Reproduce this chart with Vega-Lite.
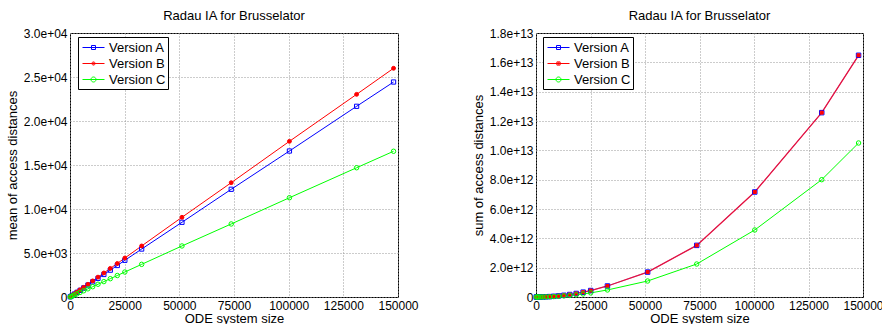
{
  "$schema": "https://vega.github.io/schema/vega-lite/v6.json",
  "padding": {"left": 5, "top": 9, "right": 0, "bottom": 0},
  "background": "white",
  "config": {
    "font": "Liberation Sans",
    "view": {"stroke": "black", "strokeWidth": 1},
    "axis": {
      "domain": false,
      "ticks": false,
      "grid": true,
      "gridDash": [1, 2],
      "gridColor": "#999999",
      "gridOpacity": 1,
      "labelFontSize": 12,
      "labelColor": "black",
      "labelPadding": 3,
      "titleFontSize": 13,
      "titleFontWeight": "normal",
      "titleColor": "black"
    },
    "axisX": {"titlePadding": 1, "labelFlush": false, "labelOverlap": false, "tickCount": 10},
    "axisY": {"titlePadding": 4, "labelOverlap": false, "tickCount": 12},
    "title": {"fontSize": 13, "fontWeight": "normal", "color": "black", "offset": 4},
    "legend": {"symbolOpacity": 1}
  },
  "datasets": {
    "d": [
      {"n": 128, "version": "Version A", "mean": 21, "sum": 1.15e7},
      {"n": 512, "version": "Version A", "mean": 85, "sum": 1.8e8},
      {"n": 1152, "version": "Version A", "mean": 190, "sum": 9.3e8},
      {"n": 2048, "version": "Version A", "mean": 340, "sum": 2.9e9},
      {"n": 3200, "version": "Version A", "mean": 530, "sum": 7.2e9},
      {"n": 4608, "version": "Version A", "mean": 760, "sum": 1.49e10},
      {"n": 6272, "version": "Version A", "mean": 1040, "sum": 2.75e10},
      {"n": 8192, "version": "Version A", "mean": 1360, "sum": 4.7e10},
      {"n": 10368, "version": "Version A", "mean": 1720, "sum": 7.5e10},
      {"n": 12800, "version": "Version A", "mean": 2120, "sum": 1.15e11},
      {"n": 15488, "version": "Version A", "mean": 2560, "sum": 1.68e11},
      {"n": 18432, "version": "Version A", "mean": 3050, "sum": 2.4e11},
      {"n": 21632, "version": "Version A", "mean": 3580, "sum": 3.3e11},
      {"n": 25088, "version": "Version A", "mean": 4170, "sum": 4.4e11},
      {"n": 32768, "version": "Version A", "mean": 5450, "sum": 7.5e11},
      {"n": 51200, "version": "Version A", "mean": 8490, "sum": 1.70e12},
      {"n": 73728, "version": "Version A", "mean": 12240, "sum": 3.52e12},
      {"n": 100352, "version": "Version A", "mean": 16590, "sum": 7.16e12},
      {"n": 131072, "version": "Version A", "mean": 21670, "sum": 1.257e13},
      {"n": 147968, "version": "Version A", "mean": 24430, "sum": 1.648e13},
      {"n": 128, "version": "Version B", "mean": 22, "sum": 1.15e7},
      {"n": 512, "version": "Version B", "mean": 90, "sum": 1.8e8},
      {"n": 1152, "version": "Version B", "mean": 200, "sum": 9.3e8},
      {"n": 2048, "version": "Version B", "mean": 360, "sum": 2.9e9},
      {"n": 3200, "version": "Version B", "mean": 560, "sum": 7.2e9},
      {"n": 4608, "version": "Version B", "mean": 810, "sum": 1.49e10},
      {"n": 6272, "version": "Version B", "mean": 1100, "sum": 2.75e10},
      {"n": 8192, "version": "Version B", "mean": 1440, "sum": 4.7e10},
      {"n": 10368, "version": "Version B", "mean": 1830, "sum": 7.5e10},
      {"n": 12800, "version": "Version B", "mean": 2260, "sum": 1.15e11},
      {"n": 15488, "version": "Version B", "mean": 2730, "sum": 1.68e11},
      {"n": 18432, "version": "Version B", "mean": 3250, "sum": 2.4e11},
      {"n": 21632, "version": "Version B", "mean": 3810, "sum": 3.3e11},
      {"n": 25088, "version": "Version B", "mean": 4430, "sum": 4.4e11},
      {"n": 32768, "version": "Version B", "mean": 5800, "sum": 7.5e11},
      {"n": 51200, "version": "Version B", "mean": 9060, "sum": 1.70e12},
      {"n": 73728, "version": "Version B", "mean": 12990, "sum": 3.52e12},
      {"n": 100352, "version": "Version B", "mean": 17690, "sum": 7.16e12},
      {"n": 131072, "version": "Version B", "mean": 23030, "sum": 1.257e13},
      {"n": 147968, "version": "Version B", "mean": 25990, "sum": 1.648e13},
      {"n": 128, "version": "Version C", "mean": 15, "sum": 7.4e6},
      {"n": 512, "version": "Version C", "mean": 58, "sum": 1.2e8},
      {"n": 1152, "version": "Version C", "mean": 130, "sum": 6.0e8},
      {"n": 2048, "version": "Version C", "mean": 230, "sum": 1.9e9},
      {"n": 3200, "version": "Version C", "mean": 360, "sum": 4.6e9},
      {"n": 4608, "version": "Version C", "mean": 520, "sum": 9.6e9},
      {"n": 6272, "version": "Version C", "mean": 710, "sum": 1.77e10},
      {"n": 8192, "version": "Version C", "mean": 930, "sum": 3.0e10},
      {"n": 10368, "version": "Version C", "mean": 1170, "sum": 4.8e10},
      {"n": 12800, "version": "Version C", "mean": 1450, "sum": 7.4e10},
      {"n": 15488, "version": "Version C", "mean": 1750, "sum": 1.08e11},
      {"n": 18432, "version": "Version C", "mean": 2080, "sum": 1.53e11},
      {"n": 21632, "version": "Version C", "mean": 2440, "sum": 2.1e11},
      {"n": 25088, "version": "Version C", "mean": 2840, "sum": 2.8e11},
      {"n": 32768, "version": "Version C", "mean": 3710, "sum": 4.8e11},
      {"n": 51200, "version": "Version C", "mean": 5800, "sum": 1.09e12},
      {"n": 73728, "version": "Version C", "mean": 8300, "sum": 2.25e12},
      {"n": 100352, "version": "Version C", "mean": 11280, "sum": 4.57e12},
      {"n": 131072, "version": "Version C", "mean": 14690, "sum": 8.0e12},
      {"n": 147968, "version": "Version C", "mean": 16560, "sum": 1.050e13}
    ]
  },
  "data": {"name": "d"},
  "spacing": 138,
  "bounds": "flush",
  "resolve": {
    "scale": {"color": "independent", "shape": "independent", "fill": "independent", "size": "independent"},
    "legend": {"color": "independent", "shape": "independent"}
  },
  "hconcat": [
    {
      "width": 328,
      "height": 264,
      "title": "Radau IA for Brusselator",
      "resolve": {"scale": {"color": "independent", "shape": "independent", "fill": "independent", "size": "independent"}},
      "layer": [
        {
          "mark": {"type": "line", "strokeWidth": 1},
          "encoding": {
            "x": {"field": "n", "type": "quantitative", "scale": {"domain": [0, 150000], "nice": false}, "axis": {"title": "ODE system size", "values": [0, 25000, 50000, 75000, 100000, 125000, 150000], "tickCount": 10, "format": "d"}},
            "y": {"field": "mean", "type": "quantitative", "scale": {"domain": [0, 30000], "nice": false}, "axis": {"title": "mean of access distances", "values": [0, 5000, 10000, 15000, 20000, 25000, 30000], "tickCount": 12, "labelExpr": "datum.value == 0 ? '0' : replace(format(datum.value, '.1e'), regexp('e[+]([0-9])$'), 'e+0$1')"}},
            "color": {"field": "version", "type": "nominal", "scale": {"domain": ["Version A", "Version B", "Version C"], "range": ["#0000ff", "#ff0000", "#00ff00"]}, "legend": null}
          }
        },
        {
          "mark": {"type": "point", "strokeWidth": 1, "opacity": 1},
          "encoding": {
            "x": {"field": "n", "type": "quantitative"},
            "y": {"field": "mean", "type": "quantitative"},
            "color": {"field": "version", "type": "nominal", "scale": {"domain": ["Version A", "Version B", "Version C"], "range": ["#0000ff", "#ff0000", "#00ff00"]}, "legend": null},
            "fill": {"field": "version", "type": "nominal", "scale": {"domain": ["Version A", "Version B", "Version C"], "range": ["transparent", "#ff0000", "transparent"]}, "legend": null},
            "shape": {"field": "version", "type": "nominal", "scale": {"domain": ["Version A", "Version B", "Version C"], "range": ["square", "circle", "circle"]}, "legend": null},
            "size": {"field": "version", "type": "nominal", "scale": {"type": "ordinal", "domain": ["Version A", "Version B", "Version C"], "range": [18, 15, 20]}, "legend": null}
          }
        },
        {
          "mark": {"type": "point", "opacity": 0},
          "encoding": {
            "x": {"field": "n", "type": "quantitative"},
            "y": {"field": "mean", "type": "quantitative"},
            "color": {"field": "version", "type": "nominal", "scale": {"domain": ["Version A", "Version B", "Version C"], "range": ["#0000ff", "#ff0000", "#00ff00"]},
              "legend": {"title": null, "orient": "none", "legendX": 8, "legendY": 4, "strokeColor": "black", "fillColor": "white", "padding": 2, "rowPadding": 0, "symbolSize": 256, "symbolStrokeWidth": 1, "symbolOpacity": 1, "labelFontSize": 13, "labelOffset": 12, "labelLimit": 200, "labelColor": "black"}},
            "shape": {"field": "version", "type": "nominal", "scale": {"domain": ["Version A", "Version B", "Version C"], "range": ["M-0.75,0H2M0.375,-0.25H0.875V0.25H0.375Z", "M-0.75,0H2M0.425,0A0.2,0.2 0 1,0 0.825,0A0.2,0.2 0 1,0 0.425,0M0.55,0A0.075,0.075 0 1,0 0.7,0A0.075,0.075 0 1,0 0.55,0", "M-0.75,0H2M0.3125,0A0.3125,0.3125 0 1,0 0.9375,0A0.3125,0.3125 0 1,0 0.3125,0"]},
              "legend": {"title": null, "orient": "none", "legendX": 8, "legendY": 4, "strokeColor": "black", "fillColor": "white", "padding": 2, "rowPadding": 0, "symbolSize": 256, "symbolStrokeWidth": 1, "symbolOpacity": 1, "labelFontSize": 13, "labelOffset": 12, "labelLimit": 200, "labelColor": "black"}}
          }
        }
      ]
    },
    {
      "width": 327,
      "height": 264,
      "title": "Radau IA for Brusselator",
      "resolve": {"scale": {"color": "independent", "shape": "independent", "fill": "independent", "size": "independent"}},
      "layer": [
        {
          "transform": [{"filter": "datum.version == 'Version A'"}],
          "mark": {"type": "line", "strokeWidth": 0.7, "color": "#0000ff", "opacity": 0.6},
          "encoding": {
            "x": {"field": "n", "type": "quantitative", "scale": {"domain": [0, 150000], "nice": false}, "axis": {"title": "ODE system size", "values": [0, 25000, 50000, 75000, 100000, 125000, 150000], "tickCount": 10, "format": "d"}},
            "y": {"field": "sum", "type": "quantitative", "scale": {"domain": [0, 1.8e13], "nice": false}, "axis": {"title": "sum of access distances", "values": [0, 2e12, 4e12, 6e12, 8e12, 1e13, 1.2e13, 1.4e13, 1.6e13, 1.8e13], "tickCount": 12, "labelExpr": "datum.value == 0 ? '0' : replace(format(datum.value, '.1e'), regexp('e[+]([0-9])$'), 'e+0$1')"}}
          }
        },
        {
          "transform": [{"filter": "datum.version != 'Version A'"}],
          "mark": {"type": "line", "strokeWidth": 1.3},
          "encoding": {
            "x": {"field": "n", "type": "quantitative"},
            "y": {"field": "sum", "type": "quantitative"},
            "color": {"field": "version", "type": "nominal", "scale": {"domain": ["Version B", "Version C"], "range": ["#e8103c", "#00ff00"]}, "legend": null},
            "size": {"field": "version", "type": "nominal", "scale": {"type": "ordinal", "domain": ["Version B", "Version C"], "range": [1.3, 1]}, "legend": null}
          }
        },
        {
          "mark": {"type": "point", "strokeWidth": 1, "opacity": 1},
          "encoding": {
            "x": {"field": "n", "type": "quantitative"},
            "y": {"field": "sum", "type": "quantitative"},
            "color": {"field": "version", "type": "nominal", "scale": {"domain": ["Version A", "Version B", "Version C"], "range": ["#0000ff", "#ff0000", "#00ff00"]}, "legend": null},
            "fill": {"field": "version", "type": "nominal", "scale": {"domain": ["Version A", "Version B", "Version C"], "range": ["transparent", "#ff0000", "transparent"]}, "legend": null},
            "shape": {"field": "version", "type": "nominal", "scale": {"domain": ["Version A", "Version B", "Version C"], "range": ["square", "square", "circle"]}, "legend": null},
            "size": {"field": "version", "type": "nominal", "scale": {"type": "ordinal", "domain": ["Version A", "Version B", "Version C"], "range": [20, 9, 20]}, "legend": null}
          }
        },
        {
          "mark": {"type": "point", "opacity": 0},
          "encoding": {
            "x": {"field": "n", "type": "quantitative"},
            "y": {"field": "sum", "type": "quantitative"},
            "color": {"field": "version", "type": "nominal", "scale": {"domain": ["Version A", "Version B", "Version C"], "range": ["#0000ff", "#ff0000", "#00ff00"]},
              "legend": {"title": null, "orient": "none", "legendX": 7, "legendY": 4, "strokeColor": "black", "fillColor": "white", "padding": 2, "rowPadding": 0, "symbolSize": 256, "symbolStrokeWidth": 1, "symbolOpacity": 1, "labelFontSize": 13, "labelOffset": 12, "labelLimit": 200, "labelColor": "black"}},
            "shape": {"field": "version", "type": "nominal", "scale": {"domain": ["Version A", "Version B", "Version C"], "range": ["M-0.75,0H2M0.375,-0.25H0.875V0.25H0.375Z", "M-0.75,0H2M0.425,-0.2H0.825V0.2H0.425ZM0.55,-0.075H0.7V0.075H0.55Z", "M-0.75,0H2M0.3125,0A0.3125,0.3125 0 1,0 0.9375,0A0.3125,0.3125 0 1,0 0.3125,0"]},
              "legend": {"title": null, "orient": "none", "legendX": 7, "legendY": 4, "strokeColor": "black", "fillColor": "white", "padding": 2, "rowPadding": 0, "symbolSize": 256, "symbolStrokeWidth": 1, "symbolOpacity": 1, "labelFontSize": 13, "labelOffset": 12, "labelLimit": 200, "labelColor": "black"}}
          }
        }
      ]
    }
  ]
}
